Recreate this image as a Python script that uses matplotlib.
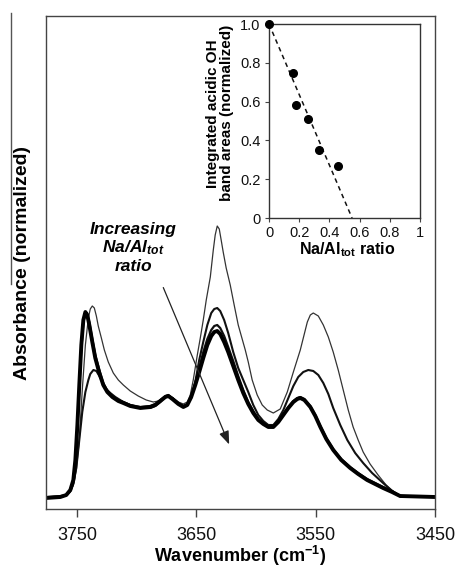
import matplotlib
matplotlib.use('Agg')
import matplotlib.pyplot as plt
from matplotlib.lines import Line2D

plt.rcParams['font.family'] = ['Liberation Sans', 'DejaVu Sans']
plt.rcParams['mathtext.fontset'] = 'custom'
plt.rcParams['mathtext.rm'] = 'Liberation Sans'
plt.rcParams['mathtext.bf'] = 'Liberation Sans:bold'
plt.rcParams['mathtext.it'] = 'Liberation Sans:bold:italic'

# --- spectra: wavenumber (cm-1) and absorbance (arbitrary normalized units) ---
# thin line, lowest Na/Al
wn_a = [3776, 3764, 3759, 3755.6, 3753.1, 3750.6, 3748.1, 3745.6, 3743.0, 3740.5, 3738.9,
        3737.2, 3735.5, 3733.8, 3732.2, 3729.6, 3727.1, 3723.8, 3719.6, 3715.4, 3711.2,
        3705.4, 3698.7, 3692.0, 3686.1, 3681.9, 3677.7, 3673.5, 3669.3, 3665.1, 3660.9,
        3657.6, 3655.1, 3652.6, 3649.2, 3646.7, 3644.2, 3641.7, 3638.3, 3635.8, 3634.2,
        3632.5, 3630.8, 3629.2, 3627.5, 3625.0, 3621.6, 3618.3, 3614.9, 3609.0, 3606.5,
        3603.2, 3599.0, 3594.8, 3590.6, 3585.5, 3579.7, 3573.8, 3568.7, 3562.9, 3557.0,
        3554.5, 3552.0, 3547.8, 3543.6, 3539.4, 3535.3, 3531.1, 3526.9, 3522.7, 3518.6,
        3514.4, 3510.2, 3504.4, 3497.7, 3491.0, 3484.3, 3479.3, 3450]
abs_a = [0, 0.01, 0.02, 0.05, 0.12, 0.27, 0.57, 1.07, 1.52, 1.79, 1.88,
         1.91, 1.89, 1.81, 1.71, 1.59, 1.47, 1.35, 1.24, 1.17, 1.12,
         1.06, 1.01, 0.97, 0.95, 0.96, 0.99, 1.01, 0.99, 0.95, 0.93,
         0.95, 1.02, 1.17, 1.42, 1.59, 1.77, 1.97, 2.20, 2.47, 2.62,
         2.71, 2.68, 2.57, 2.45, 2.29, 2.12, 1.92, 1.72, 1.47, 1.35,
         1.17, 1.02, 0.92, 0.87, 0.84, 0.88, 1.05, 1.25, 1.47, 1.75,
         1.82, 1.84, 1.81, 1.72, 1.60, 1.45, 1.27, 1.07, 0.87, 0.70,
         0.57, 0.45, 0.33, 0.22, 0.12, 0.05, 0, 0]

# medium line
wn_b = [3776, 3764, 3759, 3755.6, 3753.1, 3750.6, 3748.1, 3745.6, 3743.0, 3740.5, 3738.9,
        3736.3, 3733.8, 3731.3, 3728.8, 3725.5, 3722.1, 3717.9, 3711.2, 3705.4, 3697.0,
        3688.6, 3684.4, 3680.2, 3676.0, 3673.5, 3670.1, 3665.1, 3660.9, 3657.6, 3654.3,
        3650.9, 3647.6, 3644.2, 3640.8, 3637.5, 3635.0, 3632.5, 3630.0, 3626.7, 3623.3,
        3619.1, 3614.9, 3610.7, 3606.5, 3602.3, 3598.1, 3593.9, 3589.7, 3585.5, 3581.3,
        3577.1, 3572.9, 3568.7, 3564.6, 3560.4, 3556.2, 3552.0, 3547.8, 3543.6, 3539.4,
        3535.3, 3529.4, 3523.5, 3516.9, 3510.2, 3502.7, 3493.5, 3486.0, 3479.3, 3450]
abs_b = [0, 0.01, 0.02, 0.06, 0.13, 0.29, 0.57, 0.85, 1.05, 1.17, 1.23,
         1.27, 1.26, 1.21, 1.15, 1.08, 1.04, 1.00, 0.95, 0.92, 0.89,
         0.89, 0.91, 0.95, 1.00, 1.01, 0.99, 0.94, 0.91, 0.92, 0.99,
         1.15, 1.37, 1.55, 1.72, 1.84, 1.88, 1.89, 1.86, 1.77, 1.64,
         1.45, 1.29, 1.17, 1.05, 0.92, 0.82, 0.76, 0.72, 0.72, 0.78,
         0.87, 0.99, 1.11, 1.20, 1.25, 1.27, 1.26, 1.22, 1.14, 1.03,
         0.89, 0.72, 0.57, 0.44, 0.34, 0.24, 0.14, 0.06, 0.01, 0]

# thick lines, highest Na/Al
wn_cd = [3776, 3764, 3759, 3755.6, 3753.1, 3751.4, 3749.7, 3748.1, 3746.4, 3744.7, 3743.0,
         3741.4, 3739.7, 3737.2, 3734.7, 3731.3, 3728.0, 3724.6, 3720.4, 3715.4, 3711.2,
         3705.4, 3697.0, 3688.6, 3684.4, 3680.2, 3676.0, 3673.5, 3670.1, 3665.1, 3660.9,
         3657.6, 3654.3, 3650.9, 3647.6, 3644.2, 3640.8, 3637.5, 3635.0, 3632.5, 3630.0,
         3626.7, 3623.3, 3619.1, 3614.9, 3610.7, 3606.5, 3602.3, 3598.1, 3593.9, 3589.7,
         3585.5, 3581.3, 3577.1, 3572.9, 3568.7, 3565.4, 3562.9, 3559.5, 3554.5, 3550.3,
         3546.1, 3541.1, 3535.3, 3528.6, 3521.1, 3514.4, 3506.9, 3500.2, 3493.5, 3486.0,
         3479.3, 3450]
abs_c = [-0.01, 0, 0.02, 0.07, 0.17, 0.35, 0.68, 1.08, 1.48, 1.74, 1.84,
         1.83, 1.75, 1.58, 1.42, 1.27, 1.14, 1.06, 1.01, 0.97, 0.95,
         0.92, 0.90, 0.91, 0.93, 0.97, 1.01, 1.02, 0.99, 0.94, 0.91,
         0.93, 1.01, 1.14, 1.29, 1.45, 1.58, 1.67, 1.71, 1.72, 1.69,
         1.61, 1.50, 1.36, 1.21, 1.07, 0.95, 0.86, 0.78, 0.74, 0.71,
         0.71, 0.76, 0.83, 0.90, 0.96, 0.99, 1.00, 0.98, 0.91, 0.82,
         0.71, 0.59, 0.48, 0.38, 0.30, 0.24, 0.18, 0.14, 0.10, 0.06,
         0.01, 0]
abs_d = [-0.01, 0, 0.02, 0.07, 0.17, 0.37, 0.72, 1.12, 1.52, 1.77, 1.85,
         1.82, 1.72, 1.55, 1.39, 1.24, 1.12, 1.05, 1.00, 0.96, 0.94,
         0.91, 0.89, 0.90, 0.92, 0.96, 1.00, 1.01, 0.98, 0.93, 0.90,
         0.92, 1.00, 1.12, 1.25, 1.39, 1.52, 1.61, 1.65, 1.66, 1.63,
         1.55, 1.45, 1.31, 1.17, 1.04, 0.93, 0.84, 0.77, 0.73, 0.70,
         0.70, 0.75, 0.82, 0.89, 0.95, 0.98, 0.99, 0.97, 0.90, 0.81,
         0.70, 0.58, 0.47, 0.37, 0.29, 0.23, 0.17, 0.13, 0.09, 0.05,
         0.01, 0]

# --- inset data ---
na_al_ratio = [0, 0.16, 0.18, 0.26, 0.33, 0.46]
oh_area = [1.0, 0.75, 0.58, 0.51, 0.35, 0.27]
trend_x = [0, 0.55]
trend_y = [1.0, 0.0]

W, H = 461, 567
fig = plt.figure(figsize=(W / 100, H / 100), dpi=100)
ax = fig.add_axes([46 / W, 1 - 509 / H, 389 / W, 493 / H])

ax.plot(wn_a, abs_a, color='#333333', lw=0.9, solid_joinstyle='round')
ax.plot(wn_b, abs_b, color='#111111', lw=1.5, solid_joinstyle='round')
ax.plot(wn_cd, abs_c, color='#111111', lw=1.6, solid_joinstyle='round')
ax.plot(wn_cd, abs_d, color='#000000', lw=2.8, solid_joinstyle='round')

ax.set_xlim(3776, 3450)
ax.set_ylim(-0.12, 4.81)
ax.set_xticks([3750, 3650, 3550, 3450])
ax.set_yticks([])
ax.tick_params(axis='x', direction='out', length=6, width=1, colors='#444444',
               labelcolor='#111111', labelsize=13, pad=7)
for s in ax.spines.values():
    s.set_color('#444444')
    s.set_linewidth(1)
ax.set_xlabel('Wavenumber (cm$^{\\mathbf{-1}}$)', fontsize=13, fontweight='bold', labelpad=0)
ax.set_ylabel('Absorbance (normalized)', fontsize=14, fontweight='bold', labelpad=11)

ax.annotate('', xy=(3621.6, 0.50), xytext=(3678.6, 2.12),
            arrowprops=dict(arrowstyle='-|>,head_length=0.8,head_width=0.3',
                            color='#222222', lw=0.9))
ax.text(3702.8, 2.49, 'Increasing\nNa/Al$_{tot}$\nratio', ha='center', va='center',
        multialignment='center', fontsize=12.5, fontweight='bold', fontstyle='italic',
        linespacing=1.1)

# stray frame line at far left of the original figure
fig.add_artist(Line2D([11 / W, 11 / W], [1 - 13 / H, 1 - 284 / H],
                      transform=fig.transFigure, color='#555555', lw=1))

# --- inset ---
ins = fig.add_axes([269 / W, 1 - 218 / H, 151 / W, 194 / H])
ins.plot(trend_x, trend_y, color='#111111', lw=1.1, ls=(0, (3, 2.5)))
ins.plot(na_al_ratio, oh_area, 'o', color='black', ms=5.5, clip_on=False, zorder=3)
ins.set_xlim(0, 1)
ins.set_ylim(0, 1)
ins.set_xticks([0, 0.2, 0.4, 0.6, 0.8, 1])
ins.set_xticklabels(['0', '0.2', '0.4', '0.6', '0.8', '1'])
ins.set_yticks([0, 0.2, 0.4, 0.6, 0.8, 1.0])
ins.set_yticklabels(['0', '0.2', '0.4', '0.6', '0.8', '1.0'])
ins.tick_params(direction='out', length=3, width=0.8, colors='#444444',
                labelcolor='#111111', labelsize=10.5, pad=3)
for s in ins.spines.values():
    s.set_color('#333333')
    s.set_linewidth(1)
ins.set_xlabel('Na/Al$_{\\mathbf{tot}}$ ratio', fontsize=11.5, fontweight='bold')
ins.xaxis.set_label_coords(0.52, -0.115)
ins.set_ylabel('Integrated acidic OH\nband areas (normalized)', fontsize=11,
               fontweight='bold', linespacing=0.95)
ins.yaxis.set_label_coords(-0.235, 0.54)

fig.savefig('out.png', dpi=100)
